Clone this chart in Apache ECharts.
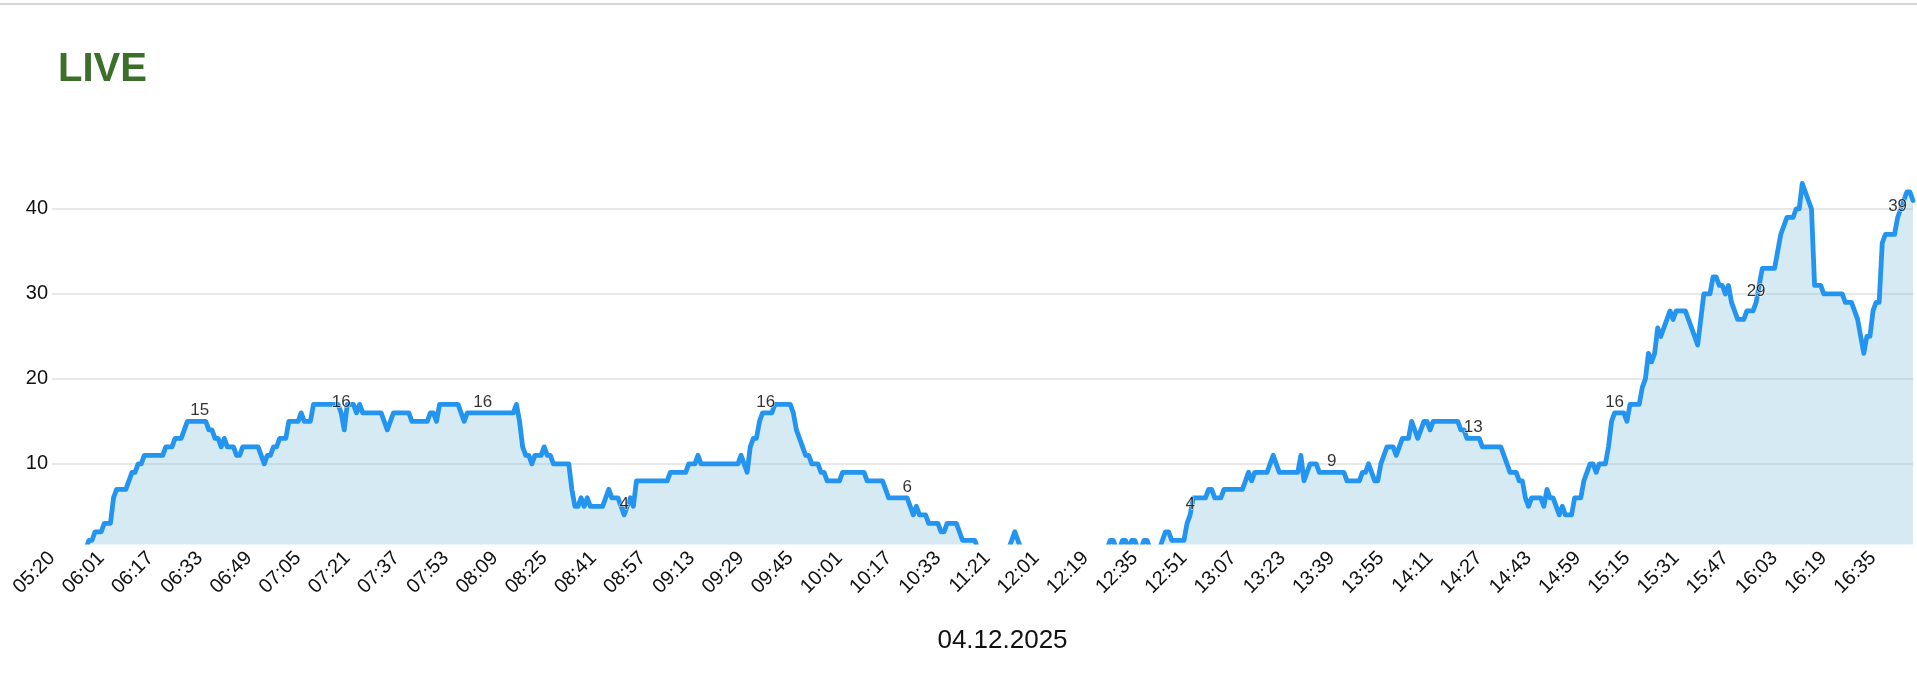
<!DOCTYPE html>
<html>
<head>
<meta charset="utf-8">
<script src="https://cdn.jsdelivr.net/npm/echarts@6/dist/echarts.min.js"></script>
<style>
  html, body { margin: 0; padding: 0; background: #fff; }
  #chart { width: 1917px; height: 683px; }
</style>
</head>
<body>
<div id="chart"></div>
<script>
// Tick labels shown on the x axis (one every 16 samples)
const tickLabels = ['05:20','06:01','06:17','06:33','06:49','07:05','07:21','07:37','07:53','08:09',
  '08:25','08:41','08:57','09:13','09:29','09:45','10:01','10:17','10:33','11:21',
  '12:01','12:19','12:35','12:51','13:07','13:23','13:39','13:55','14:11','14:27',
  '14:43','14:59','15:15','15:31','15:47','16:03','16:19','16:35'];

// Series values, one per sample
const values = [
  0,0,0,0,0,0,0,0,0,0,
  0,0,1,1,2,2,2,3,3,3,
  6,7,7,7,7,8,9,9,10,10,
  11,11,11,11,11,11,11,12,12,12,
  13,13,13,14,15,15,15,15,15,15,
  15,14,14,13,13,12,13,12,12,12,
  11,11,12,12,12,12,12,12,11,10,
  11,11,12,12,13,13,13,15,15,15,
  15,16,15,15,15,17,17,17,17,17,
  17,17,17,17,16,14,17,17,17,16,
  17,16,16,16,16,16,16,16,15,14,
  15,16,16,16,16,16,16,15,15,15,
  15,15,15,16,16,15,17,17,17,17,
  17,17,17,16,15,16,16,16,16,16,
  16,16,16,16,16,16,16,16,16,16,
  16,17,15,12,11,11,10,11,11,11,
  12,11,11,10,10,10,10,10,10,7,
  5,5,6,5,6,5,5,5,5,5,
  6,7,6,6,6,5,4,5,6,5,
  8,8,8,8,8,8,8,8,8,8,
  8,9,9,9,9,9,9,10,10,10,
  11,10,10,10,10,10,10,10,10,10,
  10,10,10,10,11,10,9,12,13,13,
  15,16,16,16,16,17,17,17,17,17,
  17,16,14,13,12,11,11,10,10,10,
  9,9,8,8,8,8,8,9,9,9,
  9,9,9,9,9,8,8,8,8,8,
  8,7,6,6,6,6,6,6,6,5,
  4,5,4,4,4,3,3,3,3,2,
  2,3,3,3,3,2,1,1,1,1,
  1,0,0,0,0,0,0,0,0,0,
  0,0,1,2,1,0,0,0,0,0,
  0,0,0,0,0,0,0,0,0,0,
  0,0,0,0,0,0,0,0,0,0,
  0,0,0,0,1,1,0,0,1,1,
  0,1,1,0,0,1,1,0,0,0,
  0,1,2,2,1,1,1,1,1,3,
  4,6,6,6,6,6,7,7,6,6,
  6,7,7,7,7,7,7,7,8,9,
  8,9,9,9,9,9,10,11,10,9,
  9,9,9,9,9,9,11,8,9,10,
  10,10,9,9,9,9,9,9,9,9,
  9,8,8,8,8,8,9,9,10,9,
  8,8,10,11,12,12,12,11,12,13,
  13,13,15,14,13,14,15,15,14,15,
  15,15,15,15,15,15,15,15,14,14,
  13,13,13,13,13,12,12,12,12,12,
  12,12,11,10,9,9,9,8,8,6,
  5,6,6,6,6,5,7,6,6,5,
  4,5,4,4,4,6,6,6,8,9,
  10,10,9,10,10,10,12,15,16,16,
  16,16,15,17,17,17,17,19,20,23,
  22,23,26,25,26,27,28,27,28,28,
  28,28,27,26,25,24,27,30,30,30,
  32,32,31,31,30,31,29,28,27,27,
  27,28,28,28,29,31,33,33,33,33,
  33,35,37,38,39,39,39,40,40,43,
  42,41,40,31,31,31,30,30,30,30,
  30,30,30,29,29,29,28,27,25,23,
  25,25,28,29,29,36,37,37,37,37,
  39,40,41,42,42,41
];

// Samples that carry a value label
const labeledIdx = [48, 94, 140, 186, 232, 278, 370, 416, 462, 508, 554, 600];

const titleText = 'LIVE';
const axisName = '04.12.2025';

// Category labels: each tick label followed by the minutes after it
function addMin(t, m) {
  const [h, mm] = t.split(':').map(Number);
  const tot = h * 60 + mm + m;
  return String(Math.floor(tot / 60)).padStart(2, '0') + ':' + String(tot % 60).padStart(2, '0');
}
const categories = [];
for (let k = 0; k < tickLabels.length && categories.length < values.length; k++) {
  for (let j = 0; j < 16 && categories.length < values.length; j++) {
    categories.push(j === 0 ? tickLabels[k] : addMin(tickLabels[k], j));
  }
}

const FONT = 'Liberation Sans, Arial, sans-serif';
const chart = echarts.init(document.getElementById('chart'), null, { renderer: 'canvas' });
chart.setOption({
  animation: false,
  backgroundColor: '#ffffff',
  title: {
    text: titleText, left: 53, top: 45,
    textStyle: { color: '#3b6f2a', fontSize: 40, fontWeight: 'bold', fontFamily: FONT }
  },
  graphic: [{
    type: 'rect', left: 0, top: 3, shape: { width: 1917, height: 2 },
    style: { fill: '#d6d6d6' }, silent: true
  }],
  grid: { left: 52, right: 4, top: 158, bottom: 141 },
  xAxis: {
    type: 'category', data: categories, boundaryGap: false,
    axisLine: { show: false }, axisTick: { show: false },
    axisLabel: { interval: 15, rotate: 45, fontSize: 20, color: '#111', margin: 13, fontFamily: FONT },
    name: axisName, nameLocation: 'middle', nameGap: 86,
    nameTextStyle: { fontSize: 26, color: '#111', fontFamily: FONT, padding: [0, 0, 0, 40] }
  },
  yAxis: {
    type: 'value', min: 0.8, max: 46,
    axisLine: { show: false }, axisTick: { show: false },
    axisLabel: {
      fontSize: 20, color: '#111', margin: 4, fontFamily: FONT,
      showMinLabel: false, showMaxLabel: false,
      formatter: v => (Math.abs(v % 10) < 1e-6 ? String(v) : '')
    },
    splitLine: { show: true, showMinLine: false, showMaxLine: false, lineStyle: { color: '#e0e0e0', width: 1.5 } }
  },
  series: [
    {
      type: 'line', data: values, showSymbol: false, clip: true,
      lineStyle: { color: '#2394f0', width: 4.8, join: 'round', cap: 'round' },
      areaStyle: { color: 'rgba(120,185,215,0.3)', opacity: 1, origin: 0 },
      z: 2
    },
    {
      type: 'scatter', silent: true, z: 5,
      data: labeledIdx.map(i => [i, values[i]]),
      symbol: 'circle', symbolSize: 1, itemStyle: { color: 'rgba(0,0,0,0)' },
      label: {
        show: true, position: 'top', distance: 2,
        formatter: p => String(p.value[1]),
        fontSize: 17, color: '#000', fontFamily: FONT,
        textBorderColor: '#ffffff', textBorderWidth: 1
      }
    }
  ]
});
</script>
</body>
</html>
